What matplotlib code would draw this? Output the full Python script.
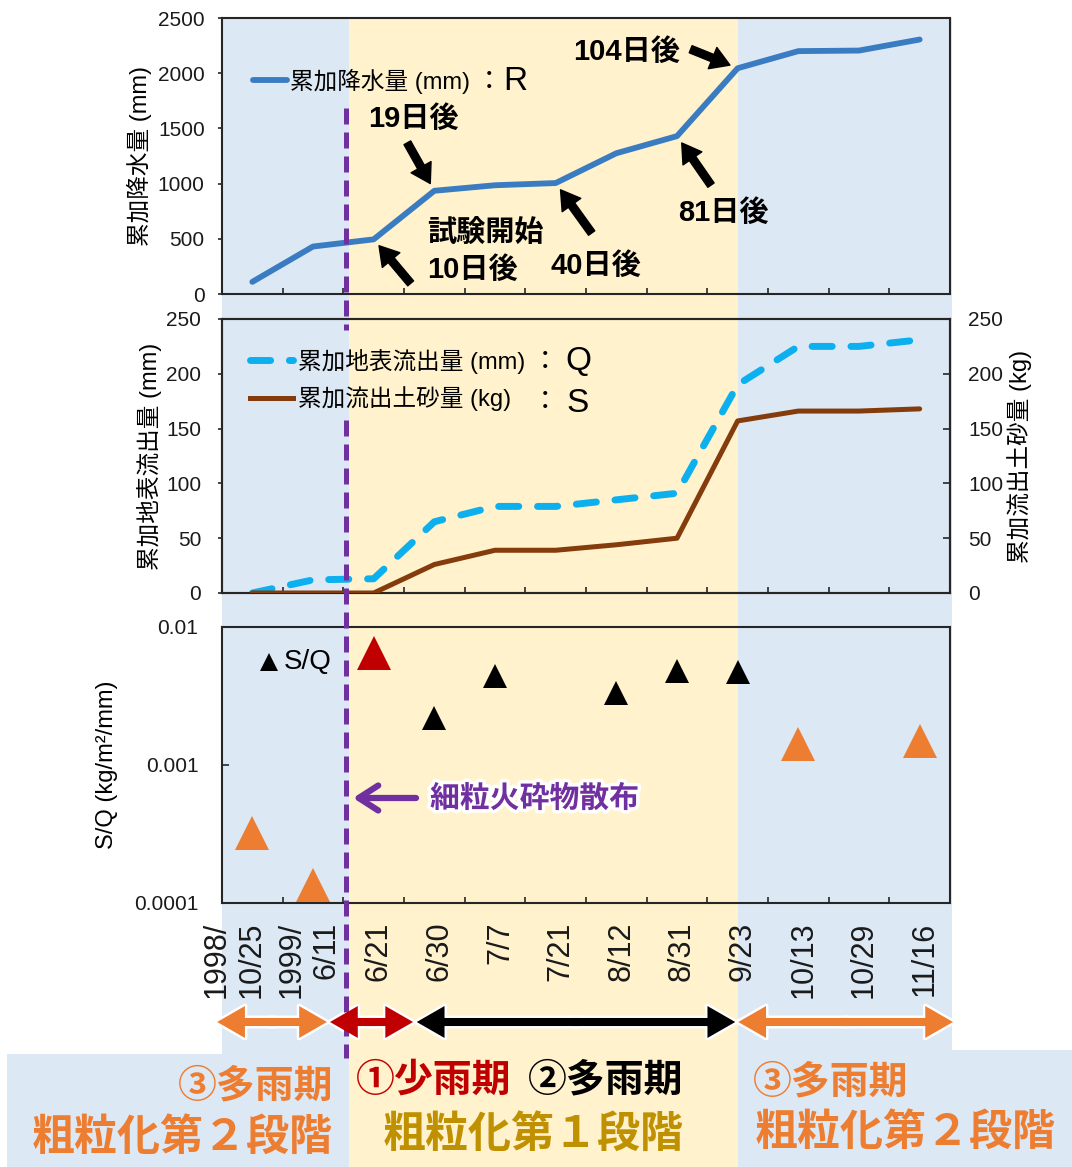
import matplotlib
matplotlib.use('Agg')
import matplotlib.pyplot as plt
import matplotlib.patheffects as pe
import numpy as np
from matplotlib.patches import Rectangle, FancyArrowPatch
from matplotlib.ticker import FixedLocator, FixedFormatter, NullLocator
from matplotlib.transforms import blended_transform_factory, ScaledTranslation

plt.rcParams['font.family'] = ['Liberation Sans', 'Noto Sans CJK JP']

# sampling dates (categorical axis)
dates = ['1998/\n10/25', '1999/\n6/11', '6/21', '6/30', '7/7', '7/21',
         '8/12', '8/31', '9/23', '10/13', '10/29', '11/16']
# cumulative rainfall R (mm)
rain_mm = [110, 430, 495, 935, 985, 1005, 1275, 1430, 2045, 2200, 2205, 2305]
# cumulative surface runoff Q (mm)
runoff_mm = [0, 12, 13, 65, 79, 79, 85, 91, 190, 225, 225, 231]
# cumulative sediment yield S (kg)
sediment_kg = [0, 0, 0, 26, 39, 39, 44, 50, 157, 166, 166, 168]
# S/Q ratio (kg/m2/mm), no value for 7/21 and 10/29
sq_ratio = [3.2e-4, 1.34e-4, 6.5e-3, 2.2e-3, 4.4e-3, np.nan,
            3.3e-3, 4.8e-3, 4.7e-3, 1.43e-3, np.nan, 1.49e-3]
# period of each sample: 1 = dry, 2 = wet (stage 1), 3 = wet (stage 2)
period = ['3', '3', '1', '2', '2', '2', '2', '2', '2', '3', '3', '3']
# days after the start of the test, with the sample they point at
day_labels = ['10日後', '19日後', '40日後', '81日後', '104日後']
day_index = [2, 3, 5, 7, 8]

BLUE_BG = '#DDE8F5'
YELLOW_BG = '#FFF2CC'
R_COLOR = '#3A7CC2'
Q_COLOR = '#0CB0EE'
S_COLOR = '#843C0C'
PURPLE = '#7030A0'
ORANGE = '#ED7D31'
RED = '#C00000'
GOLD = '#BF9000'
SPINE = '#262626'

W, H = 1072, 1167
fig = plt.figure(figsize=(W / 100, H / 100), dpi=100)


def px_rect(x0, y0, x1, y1):
    return [x0 / W, 1 - y1 / H, (x1 - x0) / W, (y1 - y0) / H]


bg = fig.add_axes([0, 0, 1, 1], zorder=-2)
ax1 = fig.add_axes(px_rect(222, 18, 950, 294))
ax2 = fig.add_axes(px_rect(222, 319, 950, 593))
ax3 = fig.add_axes(px_rect(222, 627, 950, 903))
ax2r = ax2.twinx()
ov = fig.add_axes([0, 0, 1, 1], zorder=5)

x = np.arange(len(dates))

# shared styling of the three panels
for ax in (ax1, ax2, ax3):
    ax.set_facecolor('none')
    ax.set_xlim(-0.5, len(dates) - 0.5)
    ax.set_xticks(x)
    ax.xaxis.set_minor_locator(FixedLocator(x[:-1] + 0.5))
    ax.tick_params(axis='x', which='major', length=0)
    ax.tick_params(axis='x', which='minor', direction='in', length=4,
                   width=1.2, color=SPINE)
    ax.tick_params(axis='y', labelsize=15, labelcolor='#1a1a1a',
                   width=1.2, color=SPINE)
    for sp in ax.spines.values():
        sp.set_linewidth(1.5)
        sp.set_color(SPINE)
for sp in ax2r.spines.values():
    sp.set_linewidth(1.5)
    sp.set_color(SPINE)

# --- cumulative rainfall
ax1.plot(x, rain_mm, color=R_COLOR, lw=4.2, solid_joinstyle='round',
         solid_capstyle='round', zorder=3)
ax1.set_ylim(0, 2500)
ax1.set_yticks(np.arange(0, 2501, 500))
ax1.tick_params(axis='y', direction='out', length=3, pad=9.5)
ax1.tick_params(axis='x', labelbottom=False)
ax1.set_ylabel('累加降水量 (mm)', fontsize=17, va='center')
ax1.yaxis.set_label_coords(-0.113, 0.5)

arrow_tails = [(37, -44), (-27, 48), (36, -50), (34, -49), (-47, 19)]
for i, (dx, dy) in zip(day_index, arrow_tails):
    ax1.annotate('', xy=(x[i], rain_mm[i]), xytext=(dx, dy),
                 textcoords='offset pixels',
                 arrowprops=dict(arrowstyle='simple,head_length=1.35,head_width=1.65,tail_width=0.55',
                                 mutation_scale=10, fc='black', ec='black',
                                 shrinkA=0, shrinkB=6))

# --- cumulative runoff and sediment
ax2.plot(x, runoff_mm, color=Q_COLOR, lw=5, dashes=(2.9, 2.7),
         dash_capstyle='round', dash_joinstyle='round', zorder=3)
ax2r.plot(x, sediment_kg, color=S_COLOR, lw=3.6, solid_joinstyle='round',
          solid_capstyle='round', zorder=3)
for ax in (ax2, ax2r):
    ax.set_ylim(0, 250)
    ax.set_yticks(np.arange(0, 251, 50))
ax2.tick_params(axis='y', direction='out', length=3, pad=12)
ax2r.tick_params(axis='y', direction='in', length=5, pad=13, labelsize=15,
                 labelcolor='#1a1a1a', width=1.2, color=SPINE)
ax2.tick_params(axis='x', labelbottom=False)
ax2.set_ylabel('累加地表流出量 (mm)', fontsize=17, va='center')
ax2.yaxis.set_label_coords(-0.099, 0.5)
ax2r.set_ylabel('累加流出土砂量 (kg)', fontsize=17, va='center', rotation=90)
ax2r.yaxis.set_label_coords(1.096, 0.5)

# --- S/Q ratio (log)
ax3.set_yscale('log')
ax3.set_ylim(1e-4, 1e-2)
ax3.yaxis.set_major_locator(FixedLocator([1e-4, 1e-3, 1e-2]))
ax3.yaxis.set_major_formatter(FixedFormatter(['0.0001', '0.001', '0.01']))
ax3.yaxis.set_minor_locator(NullLocator())
ax3.tick_params(axis='y', direction='in', length=5, pad=17)
ax3.set_ylabel('S/Q (kg/m²/mm)', fontsize=17, va='center')
ax3.yaxis.set_label_coords(-0.158, 0.5)

period_style = {'1': (RED, 24), '2': ('black', 17.5), '3': (ORANGE, 24)}
sq = np.array(sq_ratio)
per = np.array(period)
for key, (col, ms) in period_style.items():
    m = per == key
    ax3.plot(x[m], sq[m], ls='none', marker='^', ms=ms, mew=0, color=col,
             clip_on=False, zorder=4)

ax3.set_xticklabels(dates, rotation=90, fontsize=22, color='#1a1a1a',
                    multialignment='right')
ax3.tick_params(axis='x', which='major', pad=13.5)
label_dx = [-18, -4] + [5] * (len(dates) - 2)
for lab, dx in zip(ax3.get_xticklabels(), label_dx):
    lab.set_transform(lab.get_transform() +
                      ScaledTranslation(dx / 100, 0, fig.dpi_scale_trans))

# --- background bands: x in date categories, y in figure pixels
for a in (bg, ov):
    a.set_xlim(0, W)
    a.set_ylim(H, 0)
    a.axis('off')
bg_tr = blended_transform_factory(ax3.transData, bg.transData)
ov_tr = blended_transform_factory(ax3.transData, ov.transData)

dry_start, wet2_start = 1.6, 8.0
bands = [(-0.5, 18, dry_start, 1054, BLUE_BG),
         (-4.04, 1054, dry_start, H, BLUE_BG),
         (dry_start, 18, wet2_start, H, YELLOW_BG),
         (wet2_start, 18, 11.53, 1050, BLUE_BG),
         (wet2_start, 1050, 14.0, H, BLUE_BG)]
for x0, y0, x1, y1, c in bands:
    bg.add_patch(Rectangle((x0, y0), x1 - x0, y1 - y0, transform=bg_tr,
                           fc=c, lw=0))

# start of fine pyroclastic material spreading
spread_x = 1.55
for y0, y1 in [(108, 330), (420, 1058)]:
    ov.plot([spread_x, spread_x], [y0, y1], transform=ov_tr, color=PURPLE,
            lw=3.6, dashes=(3.2, 1.6), solid_capstyle='butt')
ov.annotate('', xy=(353, 798), xytext=(416, 798),
            arrowprops=dict(arrowstyle='->,head_length=0.7,head_width=0.45',
                            lw=4.5, color=PURPLE, mutation_scale=20,
                            shrinkA=0, shrinkB=0))
ov.text(430, 799, '細粒火砕物散布', fontsize=21.5, weight='bold', color=PURPLE,
        va='center', ha='left',
        path_effects=[pe.Stroke(linewidth=5, foreground='white'), pe.Normal()])

# legends
ov.plot([253, 287], [80, 80], color=R_COLOR, lw=4.2, solid_capstyle='round')
ov.text(290, 81, '累加降水量 (mm)', fontsize=17, va='center')
ov.text(489, 81, '：', fontsize=19, va='center', ha='center')
ov.text(503, 81, 'R', fontsize=24, va='center')

ov.plot([250, 293], [360, 360], color=Q_COLOR, lw=5, dashes=(2.9, 2.7),
        dash_capstyle='round')
ov.text(298, 361, '累加地表流出量 (mm)', fontsize=17, va='center')
ov.text(545, 361, '：', fontsize=19, va='center', ha='center')
ov.text(565, 362, 'Q', fontsize=24, va='center')
ov.plot([250, 293], [398, 398], color=S_COLOR, lw=3.6)
ov.text(298, 399, '累加流出土砂量 (kg)', fontsize=17, va='center')
ov.text(545, 401, '：', fontsize=19, va='center', ha='center')
ov.text(566, 403, 'S', fontsize=24, va='center')

ov.plot([269], [662], ls='none', marker='^', ms=13, mew=0, color='black')
ov.text(284, 662, 'S/Q', fontsize=20, va='center')

# day labels next to the arrows
day_text = {'10日後': (427, 270, 'left'), '19日後': (413, 119, 'center'),
            '40日後': (596, 266, 'center'), '81日後': (723, 213, 'center'),
            '104日後': (627, 52, 'center')}
for lab in day_labels:
    tx, ty, ha = day_text[lab]
    ov.text(tx, ty, lab, fontsize=21, weight='bold', ha=ha, va='center')
ov.text(427, 233, '試験開始', fontsize=21, weight='bold', ha='left', va='center')

# period spans: each double arrow is two filled halves pointing outwards
# (overlapping a little in the middle), a white outline layer first,
# then the fills on top
spans = [(-0.58, 1.23, ORANGE), (1.28, 2.65, RED), (2.71, 7.96, 'black'),
         (8.01, 11.55, ORANGE)]
head = 'simple,head_length=2.0,head_width=2.3,tail_width=0.58'
overlap = 0.05
for ec, lw, z in [('white', 3.5, 1), ('none', 0, 2)]:
    for x0, x1, c in spans:
        mid = 0.5 * (x0 + x1)
        for start, end in ((mid + overlap, x0), (mid - overlap, x1)):
            arr = FancyArrowPatch((start, 1022), (end, 1022), transform=ov_tr,
                                  arrowstyle=head, mutation_scale=10,
                                  fc=c, ec=ec, lw=lw, zorder=z,
                                  shrinkA=0, shrinkB=0, joinstyle='round')
            ov.add_patch(arr)

bold = dict(weight='bold', va='center')
ov.text(333, 1087, '③多雨期', fontsize=28, color=ORANGE, ha='right', **bold)
ov.text(333, 1138, '粗粒化第２段階', fontsize=31, color=ORANGE, ha='right', **bold)
ov.text(356, 1081, '①少雨期', fontsize=28, color=RED, ha='left', **bold)
ov.text(683, 1081, '②多雨期', fontsize=28, color='black', ha='right', **bold)
ov.text(533, 1135, '粗粒化第１段階', fontsize=31, color=GOLD, ha='center', **bold)
ov.text(753, 1083, '③多雨期', fontsize=28, color=ORANGE, ha='left', **bold)
ov.text(755, 1133, '粗粒化第２段階', fontsize=31, color=ORANGE, ha='left', **bold)

fig.savefig('out.png', dpi=100)
